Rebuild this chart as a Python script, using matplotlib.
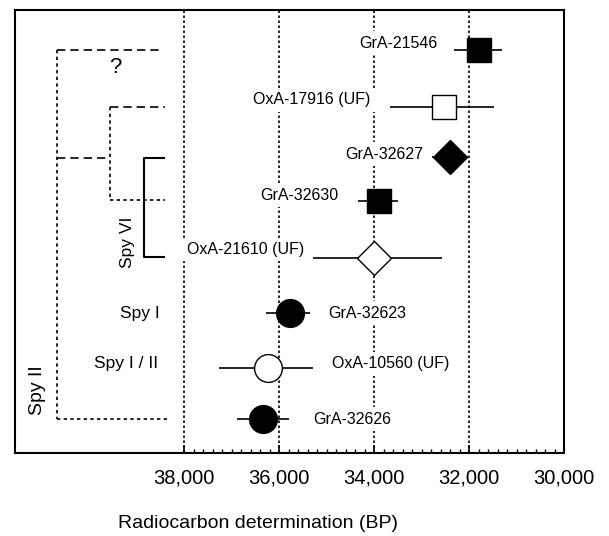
import numpy as np
import matplotlib
matplotlib.use('Agg')
import matplotlib.pyplot as plt
from matplotlib.ticker import FixedLocator, FuncFormatter

plt.rcParams['font.family'] = ['Liberation Sans', 'DejaVu Sans']

# radiocarbon dates, top to bottom
samples = ['GrA-21546', 'OxA-17916 (UF)', 'GrA-32627', 'GrA-32630',
           'OxA-21610 (UF)', 'GrA-32623', 'OxA-10560 (UF)', 'GrA-32626']
dates = [31800, 32530, 32400, 33900, 34000, 35770, 36230, 36340]
err_young = [490, 1060, 380, 400, 1430, 420, 950, 550]
err_old = [510, 1130, 380, 440, 1290, 500, 1030, 540]
rows = [0, 1.08, 2.03, 2.87, 3.95, 4.99, 6.03, 7.0]

markers = ['s', 's', 'D', 's', 'D', 'o', 'o', 'o']
filled = [True, False, True, True, False, True, False, True]
msizes = [17.5, 17.5, 17.5, 17.5, 17.5, 20, 20, 20]
# label offsets from marker (pixels) and alignment
lab_dx = [-41, -73, -27, -40, -70, 38, 64, 50]
lab_dy = [7, 7, 3, 6, 9, 0, 4, 0]
lab_ha = ['right'] * 5 + ['left'] * 3

major_ticks = [38000, 36000, 34000, 32000, 30000]

fig = plt.figure(figsize=(6.09, 5.36), dpi=100)
ax = fig.add_axes([15 / 609, 83 / 536, 549 / 609, 443 / 536])

for i in range(len(dates)):
    ax.errorbar(dates[i], rows[i], xerr=[[err_young[i]], [err_old[i]]],
                fmt='none', ecolor='black', elinewidth=1.2, capsize=0, zorder=2)
    ax.plot(dates[i], rows[i], marker=markers[i], ms=msizes[i],
            mfc='black' if filled[i] else 'white', mec='black', mew=1.0,
            ls='none', zorder=4)
    ax.annotate(samples[i], (dates[i], rows[i]), xytext=(lab_dx[i], lab_dy[i]),
                textcoords='offset pixels', ha=lab_ha[i], va='center',
                fontsize=11.5, zorder=3,
                bbox=dict(fc='white', ec='none', pad=3))

# grouping brackets on the left
dash = (0, (5, 3))
dot = (0, (2, 2))
kw = dict(color='black', lw=1.2)
ax.plot([40674, 40674], [0, 7.0], ls=dot, **kw)
ax.plot([40674, 38505], [0, 0], ls=dash, **kw)
ax.plot([40674, 38358], [7.0, 7.0], ls=dot, **kw)
ax.plot([40674, 39558], [2.05, 2.05], ls=dash, **kw)
ax.plot([39558, 39558], [1.08, 2.85], ls=dot, **kw)
ax.plot([39558, 38400], [1.08, 1.08], ls=dash, **kw)
ax.plot([39558, 38400], [2.85, 2.85], ls=dot, **kw)
ax.plot([38421, 38842, 38842, 38421], [2.05, 2.05, 3.93, 3.93],
        color='black', lw=1.5, ls='-')

ax.text(39450, 0.34, '?', fontsize=16, ha='center', va='center')
ax.text(39200, 3.65, 'Spy VI', fontsize=12.5, rotation=90, ha='center', va='center')
ax.text(41090, 6.46, 'Spy II', fontsize=14, rotation=90, ha='center', va='center')
ax.text(38520, 4.99, 'Spy I', fontsize=12.5, ha='right', va='center')
ax.text(38540, 5.95, 'Spy I / II', fontsize=12.5, ha='right', va='center')

ax.set_xlim(41560, 30000)
ax.set_ylim(7.645, -0.759)
ax.xaxis.set_major_locator(FixedLocator(major_ticks))
ax.xaxis.set_minor_locator(FixedLocator(np.arange(30000, 38001, 200)))
ax.xaxis.set_major_formatter(FuncFormatter(lambda v, p: f'{int(v):,}'))
ax.set_yticks([])
ax.tick_params(axis='x', which='major', direction='in', length=5.5, width=1.2,
               labelsize=14.5, pad=11)
ax.tick_params(axis='x', which='minor', direction='in', length=3, width=1.0)
ax.xaxis.grid(True, which='major', color='black', ls=(0, (1.5, 1.5)), lw=1.2)
for s in ax.spines.values():
    s.set_linewidth(1.5)

fig.text(258 / 609, 1 - 523 / 536, 'Radiocarbon determination (BP)',
         fontsize=14, ha='center', va='center')

plt.savefig('out.png', dpi=100)
